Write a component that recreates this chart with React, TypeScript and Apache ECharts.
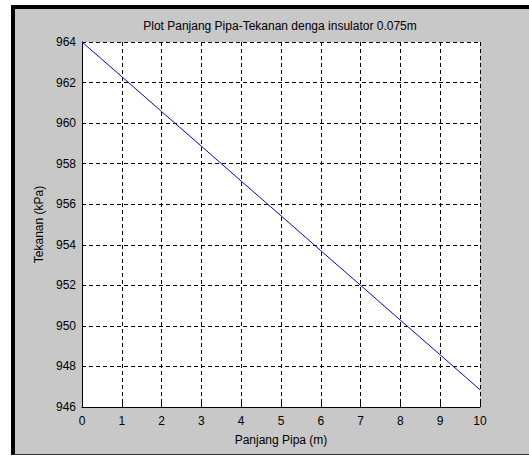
import React, { useEffect, useRef } from "react";
import * as echarts from "echarts";

const titleText = "Plot Panjang Pipa-Tekanan denga insulator 0.075m";
const xName = "Panjang Pipa (m)";
const yName = "Tekanan (kPa)";
const panjangPipa = [0, 1, 2, 3, 4, 5, 6, 7, 8, 9, 10];
const tekanan = [964, 962.29, 960.57, 958.86, 957.14, 955.43, 953.71, 952.0, 950.28, 948.57, 946.85];

const FONT = "'Liberation Sans', Arial, sans-serif";

export default function App() {
  const ref = useRef<HTMLDivElement>(null);
  useEffect(() => {
    if (!ref.current) return;
    const chart = echarts.init(ref.current, null, { renderer: "svg" });
    chart.setOption({
      animation: false,
      backgroundColor: "transparent",
      textStyle: { fontFamily: FONT },
      grid: {
        left: 82,
        right: 49,
        top: 42,
        bottom: 49,
        show: true,
        backgroundColor: "#ffffff",
        borderWidth: 0,
      },
      graphic: [
        {
          type: "text",
          x: 280,
          y: 26,
          style: {
            text: titleText,
            fontFamily: FONT,
            fontSize: 12,
            fill: "#000",
            textAlign: "center",
            textVerticalAlign: "middle",
          },
        },
      ],
      xAxis: {
        type: "value",
        min: 0,
        max: 10,
        interval: 1,
        name: xName,
        nameLocation: "middle",
        nameGap: 27,
        nameTextStyle: { fontFamily: FONT, fontSize: 12, color: "#000" },
        axisLine: { show: true, onZero: false, lineStyle: { color: "#000", width: 1 } },
        axisTick: { show: true, inside: true, length: 4, lineStyle: { color: "#000" } },
        axisLabel: { fontFamily: FONT, fontSize: 12, color: "#000", margin: 8 },
        splitLine: { show: true, lineStyle: { color: "#000", type: [4, 3], width: 1 } },
      },
      yAxis: {
        type: "value",
        min: 946,
        max: 964,
        interval: 2,
        name: yName,
        nameLocation: "middle",
        nameGap: 34,
        nameTextStyle: { fontFamily: FONT, fontSize: 12, color: "#000" },
        axisLine: { show: true, onZero: false, lineStyle: { color: "#000", width: 1 } },
        axisTick: { show: true, inside: true, length: 4, lineStyle: { color: "#000" } },
        axisLabel: { fontFamily: FONT, fontSize: 12, color: "#000", margin: 6 },
        splitLine: { show: true, lineStyle: { color: "#000", type: [4, 3], width: 1 } },
      },
      series: [
        {
          type: "line",
          data: panjangPipa.map((x, i) => [x, tekanan[i]]),
          showSymbol: false,
          symbol: "none",
          lineStyle: { color: "#0000ff", width: 1 },
        },
      ],
    });
    return () => chart.dispose();
  }, []);

  return (
    <div style={{ position: "fixed", left: 0, top: 0, width: 529, height: 456, background: "#fff", overflow: "hidden" }}>
      <div
        style={{
          position: "absolute",
          left: 11,
          top: 5,
          width: 518,
          height: 450,
          background: "#c8c8c8",
          borderLeft: "4px solid #000",
          borderTop: "4px solid #000",
          borderBottom: "1px solid #333",
          boxSizing: "border-box",
        }}
      />
      <div ref={ref} style={{ position: "absolute", left: 0, top: 0, width: 529, height: 456 }} />
    </div>
  );
}
